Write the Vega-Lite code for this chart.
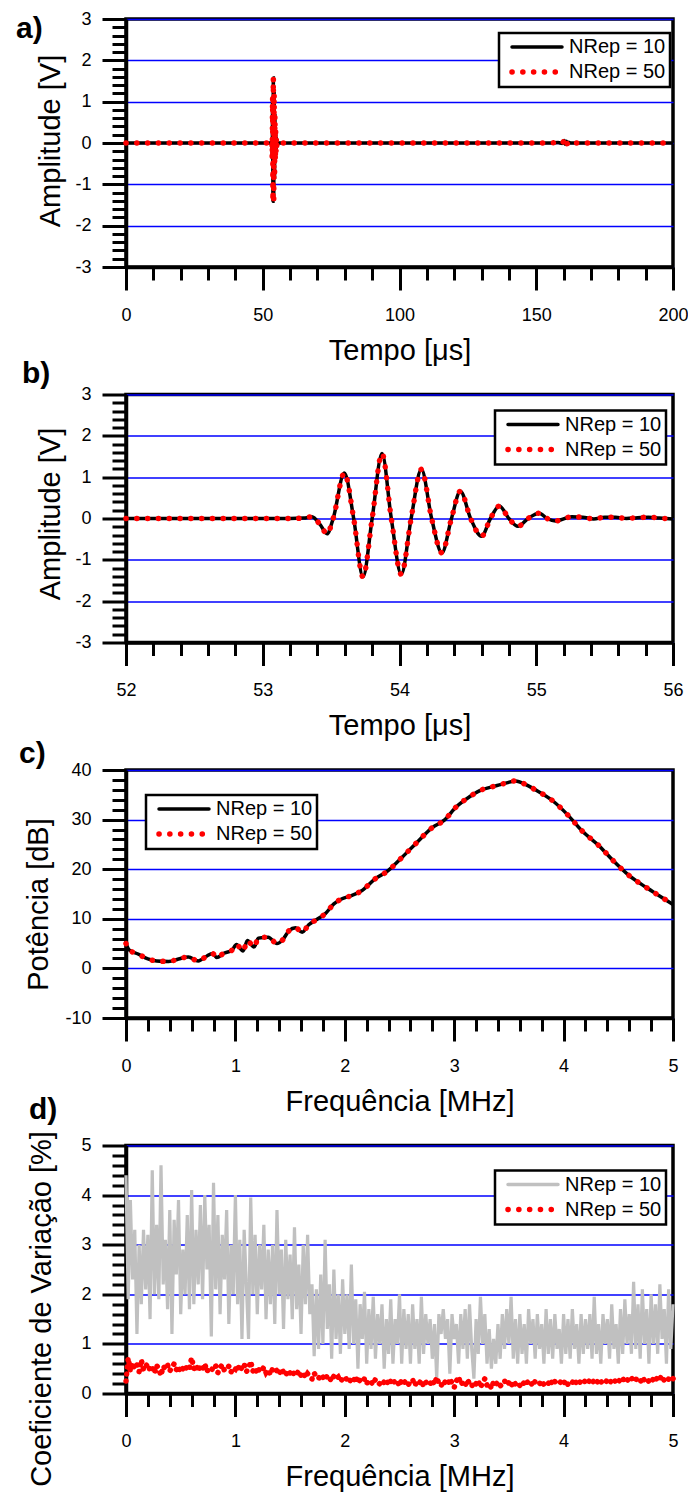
{
  "$schema": "https://vega.github.io/schema/vega-lite/v6.json",
  "padding": {"left": 14, "top": 8, "right": 0, "bottom": 0},
  "bounds": "flush",
  "spacing": 127.5,
  "config": {
    "font": "Liberation Sans",
    "background": "white",
    "view": {"stroke": "black", "strokeWidth": 3.5},
    "axis": {
      "domainColor": "black", "domainWidth": 3.5,
      "tickColor": "black", "tickWidth": 3,
      "labelFont": "Liberation Sans", "labelFontSize": 18, "labelColor": "black",
      "labelOverlap": false, "labelFlush": false,
      "titleFont": "Liberation Sans", "titleFontSize": 29, "titleFontWeight": "normal", "titleColor": "black",
      "gridColor": "#0000ff", "gridWidth": 1.5
    },
    "axisX": {"labelPadding": 16, "labelBaseline": "top", "titleY": 92, "titleBaseline": "alphabetic", "grid": false},
    "axisY": {"labelPadding": 11, "grid": true, "titleBaseline": "middle", "titleAlign": "center"},
    "legend": {
      "labelFont": "Liberation Sans", "labelFontSize": 20, "labelColor": "black",
      "padding": 4, "rowPadding": 4, "symbolOffset": 24, "labelOffset": 22,
      "symbolSize": 2500, "symbolType": "stroke", "strokeColor": "black", "fillColor": "white"
    },
    "title": {"font": "Liberation Sans", "fontSize": 30, "fontWeight": "bold", "color": "black", "anchor": "start", "frame": "group", "baseline": "alphabetic"}
  },
  "resolve": {"scale": {"color": "independent", "x": "independent", "y": "independent"}, "legend": {"color": "independent"}},
  "datasets": {
    "a": [
      {"t":0,"v":0},{"t":10,"v":0},{"t":20,"v":0},{"t":30,"v":0},{"t":40,"v":0},{"t":50,"v":0},{"t":53,"v":0},{"t":53.3,"v":0},
      {"t":53.36,"v":0.04},{"t":53.42,"v":-0.15},{"t":53.47,"v":-0.37},{"t":53.515,"v":0},{"t":53.597,"v":1.1},{"t":53.665,"v":0},
      {"t":53.733,"v":-1.41},{"t":53.8,"v":0},{"t":53.872,"v":1.57},{"t":53.94,"v":0},{"t":54.013,"v":-1.35},{"t":54.085,"v":0},
      {"t":54.16,"v":1.19},{"t":54.235,"v":0},{"t":54.31,"v":-0.83},{"t":54.38,"v":0},{"t":54.445,"v":0.66},{"t":54.52,"v":0},
      {"t":54.6,"v":-0.43},{"t":54.665,"v":0},{"t":54.73,"v":0.3},{"t":54.8,"v":0},{"t":54.866,"v":-0.19},{"t":54.94,"v":0},
      {"t":55.02,"v":0.13},{"t":55.08,"v":0},{"t":55.14,"v":-0.06},{"t":55.26,"v":0.04},{"t":55.5,"v":0.02},{"t":56,"v":0},
      {"t":60,"v":0},{"t":70,"v":0},{"t":80,"v":0},{"t":90,"v":0},{"t":100,"v":0},{"t":110,"v":0},{"t":120,"v":0},{"t":130,"v":0},
      {"t":140,"v":0},{"t":150,"v":0},{"t":155,"v":0},{"t":158,"v":0.01},{"t":159.5,"v":-0.01},{"t":160.2,"v":0.06},{"t":160.6,"v":-0.03},
      {"t":161,"v":0.04},{"t":161.4,"v":-0.02},{"t":161.8,"v":0.02},{"t":162.5,"v":0},{"t":165,"v":0},{"t":170,"v":0},{"t":180,"v":0},
      {"t":190,"v":0},{"t":200,"v":0}
    ],
    "b": [
      {"t":52,"v":0},{"t":52.5,"v":0},{"t":53,"v":0},{"t":53.2,"v":0},{"t":53.3,"v":0.01},
      {"t":53.36,"v":0.04},{"t":53.42,"v":-0.15},{"t":53.47,"v":-0.37},{"t":53.515,"v":0},{"t":53.597,"v":1.1},{"t":53.665,"v":0},
      {"t":53.733,"v":-1.41},{"t":53.8,"v":0},{"t":53.872,"v":1.57},{"t":53.94,"v":0},{"t":54.013,"v":-1.35},{"t":54.085,"v":0},
      {"t":54.16,"v":1.19},{"t":54.235,"v":0},{"t":54.31,"v":-0.83},{"t":54.38,"v":0},{"t":54.445,"v":0.66},{"t":54.52,"v":0},
      {"t":54.6,"v":-0.43},{"t":54.665,"v":0},{"t":54.73,"v":0.3},{"t":54.8,"v":0},{"t":54.866,"v":-0.19},{"t":54.94,"v":0},
      {"t":55.02,"v":0.13},{"t":55.08,"v":0},{"t":55.14,"v":-0.06},{"t":55.26,"v":0.04},{"t":55.34,"v":0.03},{"t":55.42,"v":-0.01},
      {"t":55.5,"v":0.03},{"t":55.58,"v":0.03},{"t":55.66,"v":0},{"t":55.74,"v":0.02},{"t":55.82,"v":0.03},{"t":55.9,"v":0.01},{"t":56,"v":-0.01}
    ],
    "c": [
      {"f":0,"p":5.0},{"f":0.03,"p":3.7},{"f":0.11,"p":2.9},{"f":0.2,"p":1.9},{"f":0.28,"p":1.5},{"f":0.39,"p":1.4},
      {"f":0.48,"p":1.9},{"f":0.57,"p":2.3},{"f":0.66,"p":1.5},{"f":0.74,"p":2.5},{"f":0.79,"p":3.0},{"f":0.83,"p":2.2},
      {"f":0.89,"p":3.0},{"f":0.97,"p":3.7},{"f":1.01,"p":4.8},{"f":1.07,"p":3.5},{"f":1.11,"p":5.6},{"f":1.17,"p":4.3},
      {"f":1.21,"p":6.1},{"f":1.3,"p":6.3},{"f":1.38,"p":5.0},{"f":1.43,"p":5.7},{"f":1.49,"p":7.6},{"f":1.55,"p":8.2},
      {"f":1.61,"p":7.3},{"f":1.67,"p":8.8},{"f":1.74,"p":9.8},{"f":1.82,"p":11.0},{"f":1.9,"p":13.0},{"f":1.97,"p":14.0},
      {"f":2.05,"p":14.6},{"f":2.15,"p":15.6},{"f":2.28,"p":18.1},{"f":2.39,"p":19.6},{"f":2.51,"p":22.1},{"f":2.65,"p":25.2},
      {"f":2.8,"p":28.4},{"f":2.91,"p":29.9},{"f":3.02,"p":32.6},{"f":3.14,"p":34.6},{"f":3.23,"p":35.8},{"f":3.38,"p":36.8},
      {"f":3.48,"p":37.4},{"f":3.56,"p":37.8},{"f":3.66,"p":37.0},{"f":3.75,"p":35.9},{"f":3.9,"p":33.8},{"f":4.04,"p":30.9},
      {"f":4.17,"p":27.7},{"f":4.33,"p":24.6},{"f":4.45,"p":21.8},{"f":4.6,"p":18.7},{"f":4.75,"p":16.4},{"f":4.87,"p":14.7},{"f":5,"p":12.9}
    ],
    "d": [
      {"f":0,"g":4.4,"r":0.25},{"f":0.02,"g":1.9,"r":0.72},{"f":0.04,"g":3.9,"r":0.45},{"f":0.06,"g":2.3,"r":0.62},{"f":0.08,"g":3.3,"r":0.5},
      {"f":0.1,"g":1.2,"r":0.58},{"f":0.12,"g":3.0,"r":0.44},{"f":0.14,"g":1.8,"r":0.68},{"f":0.16,"g":3.3,"r":0.47},{"f":0.18,"g":2.1,"r":0.55},
      {"f":0.2,"g":3.2,"r":0.6},{"f":0.22,"g":1.5,"r":0.46},{"f":0.24,"g":4.5,"r":0.52},{"f":0.26,"g":2.0,"r":0.41},{"f":0.28,"g":3.4,"r":0.57},
      {"f":0.3,"g":1.9,"r":0.49},{"f":0.32,"g":4.6,"r":0.36},{"f":0.34,"g":2.2,"r":0.55},{"f":0.36,"g":3.1,"r":0.5},{"f":0.38,"g":1.7,"r":0.58},
      {"f":0.4,"g":3.7,"r":0.45},{"f":0.42,"g":1.2,"r":0.53},{"f":0.44,"g":3.5,"r":0.6},{"f":0.46,"g":2.4,"r":0.48},{"f":0.48,"g":3.9,"r":0.55},
      {"f":0.5,"g":1.6,"r":0.43},{"f":0.52,"g":2.9,"r":0.5},{"f":0.54,"g":2.0,"r":0.57},{"f":0.56,"g":3.6,"r":0.46},{"f":0.58,"g":1.7,"r":0.52},
      {"f":0.6,"g":4.1,"r":0.72},{"f":0.62,"g":1.8,"r":0.5},{"f":0.64,"g":3.3,"r":0.58},{"f":0.66,"g":2.2,"r":0.45},{"f":0.68,"g":3.8,"r":0.55},
      {"f":0.7,"g":1.9,"r":0.49},{"f":0.72,"g":4.0,"r":0.6},{"f":0.74,"g":2.5,"r":0.44},{"f":0.76,"g":3.4,"r":0.53},{"f":0.78,"g":1.15,"r":0.5},
      {"f":0.8,"g":4.25,"r":0.47},{"f":0.82,"g":2.1,"r":0.56},{"f":0.84,"g":3.6,"r":0.42},{"f":0.86,"g":1.6,"r":0.52},{"f":0.88,"g":3.2,"r":0.58},
      {"f":0.9,"g":2.3,"r":0.46},{"f":0.92,"g":3.7,"r":0.5},{"f":0.94,"g":1.4,"r":0.55},{"f":0.96,"g":3.0,"r":0.43},{"f":0.98,"g":2.0,"r":0.52},
      {"f":1,"g":4.0,"r":0.49},{"f":1.02,"g":1.8,"r":0.57},{"f":1.04,"g":3.1,"r":0.45},{"f":1.06,"g":1.1,"r":0.53},{"f":1.08,"g":3.3,"r":0.6},
      {"f":1.1,"g":2.2,"r":0.44},{"f":1.12,"g":1.1,"r":0.5},{"f":1.14,"g":3.95,"r":0.65},{"f":1.16,"g":2.0,"r":0.45},{"f":1.18,"g":3.2,"r":0.52},
      {"f":1.2,"g":1.6,"r":0.4},{"f":1.22,"g":3.0,"r":0.5},{"f":1.24,"g":2.1,"r":0.46},{"f":1.26,"g":3.4,"r":0.53},{"f":1.28,"g":1.5,"r":0.42},
      {"f":1.3,"g":2.9,"r":0.48},{"f":1.32,"g":1.8,"r":0.38},{"f":1.34,"g":3.0,"r":0.5},{"f":1.36,"g":1.4,"r":0.44},{"f":1.38,"g":3.7,"r":0.47},
      {"f":1.4,"g":2.0,"r":0.39},{"f":1.42,"g":2.9,"r":0.5},{"f":1.44,"g":1.3,"r":0.43},{"f":1.46,"g":3.1,"r":0.36},{"f":1.48,"g":1.9,"r":0.47},
      {"f":1.5,"g":2.8,"r":0.41},{"f":1.52,"g":1.5,"r":0.35},{"f":1.54,"g":3.35,"r":0.44},{"f":1.56,"g":1.7,"r":0.39},{"f":1.58,"g":2.6,"r":0.46},
      {"f":1.6,"g":1.2,"r":0.36},{"f":1.62,"g":3.0,"r":0.42},{"f":1.64,"g":1.8,"r":0.32},{"f":1.66,"g":3.2,"r":0.4},{"f":1.68,"g":1.6,"r":0.35},
      {"f":1.7,"g":2.2,"r":0.29},{"f":1.72,"g":0.75,"r":0.41},{"f":1.74,"g":2.1,"r":0.34},{"f":1.76,"g":0.9,"r":0.3},{"f":1.78,"g":2.4,"r":0.38},
      {"f":1.8,"g":1.0,"r":0.33},{"f":1.82,"g":3.1,"r":0.27},{"f":1.84,"g":1.3,"r":0.37},{"f":1.86,"g":2.2,"r":0.31},{"f":1.88,"g":0.7,"r":0.25},
      {"f":1.9,"g":2.5,"r":0.35},{"f":1.92,"g":1.1,"r":0.29},{"f":1.94,"g":2.0,"r":0.33},{"f":1.96,"g":0.8,"r":0.24},{"f":1.98,"g":2.3,"r":0.3},
      {"f":2,"g":1.2,"r":0.34},{"f":2.02,"g":2.0,"r":0.27},{"f":2.04,"g":0.9,"r":0.22},{"f":2.06,"g":2.6,"r":0.31},{"f":2.08,"g":1.0,"r":0.26},
      {"f":2.1,"g":1.9,"r":0.35},{"f":2.12,"g":0.5,"r":0.21},{"f":2.14,"g":1.8,"r":0.28},{"f":2.16,"g":1.1,"r":0.24},{"f":2.18,"g":2.05,"r":0.3},
      {"f":2.2,"g":0.6,"r":0.2},{"f":2.22,"g":1.7,"r":0.27},{"f":2.24,"g":0.9,"r":0.23},{"f":2.26,"g":1.95,"r":0.18},{"f":2.28,"g":0.7,"r":0.29},
      {"f":2.3,"g":1.6,"r":0.24},{"f":2.32,"g":1.0,"r":0.19},{"f":2.34,"g":1.8,"r":0.26},{"f":2.36,"g":0.5,"r":0.22},{"f":2.38,"g":1.5,"r":0.28},
      {"f":2.4,"g":0.8,"r":0.17},{"f":2.42,"g":1.9,"r":0.25},{"f":2.44,"g":0.6,"r":0.3},{"f":2.46,"g":1.5,"r":0.2},{"f":2.48,"g":1.0,"r":0.24},
      {"f":2.5,"g":2.0,"r":0.15},{"f":2.52,"g":0.6,"r":0.27},{"f":2.54,"g":1.7,"r":0.21},{"f":2.56,"g":0.9,"r":0.26},{"f":2.58,"g":1.6,"r":0.18},
      {"f":2.6,"g":0.6,"r":0.23},{"f":2.62,"g":1.8,"r":0.28},{"f":2.64,"g":0.9,"r":0.16},{"f":2.66,"g":1.5,"r":0.24},{"f":2.68,"g":0.6,"r":0.2},
      {"f":2.7,"g":1.95,"r":0.27},{"f":2.72,"g":0.8,"r":0.14},{"f":2.74,"g":1.6,"r":0.22},{"f":2.76,"g":1.0,"r":0.25},{"f":2.78,"g":1.5,"r":0.19},
      {"f":2.8,"g":0.7,"r":0.28},{"f":2.82,"g":1.4,"r":0.18},{"f":2.84,"g":0.3,"r":0.33},{"f":2.86,"g":1.6,"r":0.2},{"f":2.88,"g":1.2,"r":0.15},
      {"f":2.9,"g":1.7,"r":0.26},{"f":2.92,"g":1.1,"r":0.22},{"f":2.94,"g":1.5,"r":0.17},{"f":2.96,"g":0.4,"r":0.3},{"f":2.98,"g":1.6,"r":0.21},
      {"f":3,"g":1.1,"r":0.12},{"f":3.02,"g":1.4,"r":0.25},{"f":3.04,"g":0.6,"r":0.34},{"f":3.06,"g":1.6,"r":0.18},{"f":3.08,"g":0.9,"r":0.23},
      {"f":3.1,"g":1.7,"r":0.16},{"f":3.12,"g":0.7,"r":0.28},{"f":3.14,"g":1.8,"r":0.2},{"f":3.16,"g":0.9,"r":0.14},{"f":3.18,"g":0.3,"r":0.24},
      {"f":3.2,"g":1.5,"r":0.19},{"f":3.22,"g":0.8,"r":0.26},{"f":3.24,"g":1.95,"r":0.12},{"f":3.26,"g":1.0,"r":0.22},{"f":3.28,"g":1.6,"r":0.3},
      {"f":3.3,"g":0.6,"r":0.17},{"f":3.32,"g":1.3,"r":0.21},{"f":3.34,"g":0.5,"r":0.1},{"f":3.36,"g":1.1,"r":0.24},{"f":3.38,"g":0.6,"r":0.18},
      {"f":3.4,"g":1.4,"r":0.23},{"f":3.42,"g":0.7,"r":0.15},{"f":3.44,"g":1.6,"r":0.2},{"f":3.46,"g":0.9,"r":0.26},{"f":3.48,"g":1.7,"r":0.17},
      {"f":3.5,"g":1.0,"r":0.22},{"f":3.52,"g":1.95,"r":0.14},{"f":3.54,"g":0.7,"r":0.25},{"f":3.56,"g":1.5,"r":0.19},{"f":3.58,"g":0.6,"r":0.23},
      {"f":3.6,"g":1.6,"r":0.16},{"f":3.62,"g":0.8,"r":0.24},{"f":3.64,"g":1.4,"r":0.2},{"f":3.66,"g":0.6,"r":0.27},{"f":3.68,"g":1.7,"r":0.18},
      {"f":3.7,"g":1.0,"r":0.22},{"f":3.72,"g":1.5,"r":0.15},{"f":3.74,"g":0.7,"r":0.25},{"f":3.76,"g":1.6,"r":0.21},{"f":3.78,"g":0.9,"r":0.19},
      {"f":3.8,"g":1.4,"r":0.26},{"f":3.82,"g":0.6,"r":0.18},{"f":3.84,"g":1.7,"r":0.23},{"f":3.86,"g":0.8,"r":0.2},{"f":3.88,"g":1.5,"r":0.28},
      {"f":3.9,"g":0.7,"r":0.17},{"f":3.92,"g":1.6,"r":0.24},{"f":3.94,"g":0.9,"r":0.21},{"f":3.96,"g":1.3,"r":0.19},{"f":3.98,"g":0.6,"r":0.26},
      {"f":4,"g":1.6,"r":0.2},{"f":4.02,"g":0.8,"r":0.27},{"f":4.04,"g":1.5,"r":0.18},{"f":4.06,"g":0.7,"r":0.24},{"f":4.08,"g":1.7,"r":0.22},
      {"f":4.1,"g":0.9,"r":0.29},{"f":4.12,"g":1.4,"r":0.19},{"f":4.14,"g":0.6,"r":0.25},{"f":4.16,"g":1.6,"r":0.21},{"f":4.18,"g":0.8,"r":0.27},
      {"f":4.2,"g":1.5,"r":0.23},{"f":4.22,"g":0.9,"r":0.19},{"f":4.24,"g":1.6,"r":0.28},{"f":4.26,"g":0.7,"r":0.22},{"f":4.28,"g":1.95,"r":0.26},
      {"f":4.3,"g":0.8,"r":0.2},{"f":4.32,"g":1.4,"r":0.29},{"f":4.34,"g":0.6,"r":0.23},{"f":4.36,"g":1.6,"r":0.25},{"f":4.38,"g":1.0,"r":0.21},
      {"f":4.4,"g":1.5,"r":0.28},{"f":4.42,"g":0.7,"r":0.22},{"f":4.44,"g":1.8,"r":0.26},{"f":4.46,"g":0.9,"r":0.3},{"f":4.48,"g":1.4,"r":0.21},
      {"f":4.5,"g":0.6,"r":0.27},{"f":4.52,"g":1.7,"r":0.24},{"f":4.54,"g":0.8,"r":0.31},{"f":4.56,"g":1.9,"r":0.23},{"f":4.58,"g":1.0,"r":0.28},
      {"f":4.6,"g":1.6,"r":0.25},{"f":4.62,"g":0.8,"r":0.32},{"f":4.64,"g":2.25,"r":0.24},{"f":4.66,"g":0.9,"r":0.29},{"f":4.68,"g":1.8,"r":0.27},
      {"f":4.7,"g":0.7,"r":0.22},{"f":4.72,"g":2.1,"r":0.33},{"f":4.74,"g":1.0,"r":0.26},{"f":4.76,"g":1.7,"r":0.3},{"f":4.78,"g":0.6,"r":0.24},
      {"f":4.8,"g":2.0,"r":0.31},{"f":4.82,"g":1.0,"r":0.27},{"f":4.84,"g":1.8,"r":0.34},{"f":4.86,"g":0.8,"r":0.25},{"f":4.88,"g":2.2,"r":0.3},
      {"f":4.9,"g":1.1,"r":0.36},{"f":4.92,"g":1.7,"r":0.26},{"f":4.94,"g":0.6,"r":0.32},{"f":4.96,"g":2.1,"r":0.29},{"f":4.98,"g":0.9,"r":0.35},
      {"f":5,"g":1.8,"r":0.3}
    ]
  },
  "vconcat": [
    {
      "width": 547, "height": 248,
      "title": {"text": "a)", "dx": -110, "offset": -34},
      "data": {"name": "a"},
      "encoding": {
        "x": {"field": "t", "type": "quantitative", "title": "Tempo [μs]",
          "scale": {"domain": [0, 200], "nice": false, "zero": false},
          "axis": {"values": [0,10,20,30,40,50,60,70,80,90,100,110,120,130,140,150,160,170,180,190,200],
            "labelExpr": "datum.value % 50 === 0 ? '' + datum.value : ''",
            "tickSize": {"condition": {"test": "datum.value % 50 === 0", "value": 23}, "value": 13}}},
        "y": {"field": "v", "type": "quantitative", "title": "Amplitude [V]",
          "scale": {"domain": [-3, 3], "nice": false, "zero": false},
          "axis": {"values": [-3,-2.8,-2.6,-2.4,-2.2,-2,-1.8,-1.6,-1.4,-1.2,-1,-0.8,-0.6,-0.4,-0.2,0,0.2,0.4,0.6,0.8,1,1.2,1.4,1.6,1.8,2,2.2,2.4,2.6,2.8,3],
            "labelExpr": "abs(datum.value - round(datum.value)) < 0.001 ? '' + round(datum.value) : ''",
            "gridOpacity": {"condition": {"test": "abs(datum.value - round(datum.value)) < 0.001", "value": 1}, "value": 0},
            "tickSize": {"condition": {"test": "abs(datum.value - round(datum.value)) < 0.001", "value": 24}, "value": 14},
            "titleX": -76, "titleY": 121.5}}
      },
      "layer": [
        {"mark": {"type": "line", "strokeWidth": 3.5, "interpolate": "monotone"},
         "encoding": {"color": {"datum": "NRep = 10", "type": "nominal",
           "scale": {"domain": ["NRep = 10", "NRep = 50"], "range": ["black", "red"]},
           "legend": {"title": null, "orient": "none", "legendX": 373, "legendY": 14,
             "encode": {"legend": {"update": {"stroke": {"value": "black"}, "strokeWidth": {"value": 2.5}, "fill": {"value": "white"}}},
               "symbols": {"update": {"strokeWidth": {"signal": "datum.value === 'NRep = 50' ? 5.5 : 3.5"}, "strokeDash": {"signal": "datum.value === 'NRep = 50' ? [0.1, 10.7] : [1, 0]"}, "strokeCap": {"value": "round"}}}}}}}},
        {"mark": {"type": "line", "strokeWidth": 5.5, "strokeDash": [0.1, 10.7], "strokeCap": "round", "interpolate": "monotone"},
         "encoding": {"color": {"datum": "NRep = 50", "type": "nominal"}}}
      ]
    },
    {
      "width": 547, "height": 248,
      "title": {"text": "b)", "dx": -104, "offset": -3},
      "data": {"name": "b"},
      "encoding": {
        "x": {"field": "t", "type": "quantitative", "title": "Tempo [μs]",
          "scale": {"domain": [52, 56], "nice": false, "zero": false},
          "axis": {"values": [52,52.2,52.4,52.6,52.8,53,53.2,53.4,53.6,53.8,54,54.2,54.4,54.6,54.8,55,55.2,55.4,55.6,55.8,56],
            "labelExpr": "abs(datum.value - round(datum.value)) < 0.001 ? '' + round(datum.value) : ''",
            "tickSize": {"condition": {"test": "abs(datum.value - round(datum.value)) < 0.001", "value": 23}, "value": 13}}},
        "y": {"field": "v", "type": "quantitative", "title": "Amplitude [V]",
          "scale": {"domain": [-3, 3], "nice": false, "zero": false},
          "axis": {"values": [-3,-2.8,-2.6,-2.4,-2.2,-2,-1.8,-1.6,-1.4,-1.2,-1,-0.8,-0.6,-0.4,-0.2,0,0.2,0.4,0.6,0.8,1,1.2,1.4,1.6,1.8,2,2.2,2.4,2.6,2.8,3],
            "labelExpr": "abs(datum.value - round(datum.value)) < 0.001 ? '' + round(datum.value) : ''",
            "gridOpacity": {"condition": {"test": "abs(datum.value - round(datum.value)) < 0.001", "value": 1}, "value": 0},
            "tickSize": {"condition": {"test": "abs(datum.value - round(datum.value)) < 0.001", "value": 24}, "value": 14},
            "titleX": -76, "titleY": 119}}
      },
      "layer": [
        {"mark": {"type": "line", "strokeWidth": 3.5, "interpolate": "monotone"},
         "encoding": {"color": {"datum": "NRep = 10", "type": "nominal",
           "scale": {"domain": ["NRep = 10", "NRep = 50"], "range": ["black", "red"]},
           "legend": {"title": null, "orient": "none", "legendX": 369, "legendY": 16,
             "encode": {"legend": {"update": {"stroke": {"value": "black"}, "strokeWidth": {"value": 2.5}, "fill": {"value": "white"}}},
               "symbols": {"update": {"strokeWidth": {"signal": "datum.value === 'NRep = 50' ? 5.5 : 3.5"}, "strokeDash": {"signal": "datum.value === 'NRep = 50' ? [0.1, 10.7] : [1, 0]"}, "strokeCap": {"value": "round"}}}}}}}},
        {"mark": {"type": "line", "strokeWidth": 5.5, "strokeDash": [0.1, 10.7], "strokeCap": "round", "interpolate": "monotone"},
         "encoding": {"color": {"datum": "NRep = 50", "type": "nominal"}}}
      ]
    },
    {
      "width": 547, "height": 248,
      "title": {"text": "c)", "dx": -107, "offset": -8},
      "data": {"name": "c"},
      "encoding": {
        "x": {"field": "f", "type": "quantitative", "title": "Frequência [MHz]",
          "scale": {"domain": [0, 5], "nice": false, "zero": false},
          "axis": {"values": [0,0.2,0.4,0.6,0.8,1,1.2,1.4,1.6,1.8,2,2.2,2.4,2.6,2.8,3,3.2,3.4,3.6,3.8,4,4.2,4.4,4.6,4.8,5],
            "labelExpr": "abs(datum.value - round(datum.value)) < 0.001 ? '' + round(datum.value) : ''",
            "tickSize": {"condition": {"test": "abs(datum.value - round(datum.value)) < 0.001", "value": 23}, "value": 13}}},
        "y": {"field": "p", "type": "quantitative", "title": "Potência [dB]",
          "scale": {"domain": [-10, 40], "nice": false, "zero": false},
          "axis": {"values": [-10,-8,-6,-4,-2,0,2,4,6,8,10,12,14,16,18,20,22,24,26,28,30,32,34,36,38,40],
            "labelExpr": "datum.value % 10 === 0 ? '' + datum.value : ''",
            "gridOpacity": {"condition": {"test": "datum.value % 10 === 0", "value": 1}, "value": 0},
            "tickSize": {"condition": {"test": "datum.value % 10 === 0", "value": 24}, "value": 14},
            "titleX": -88, "titleY": 134}}
      },
      "layer": [
        {"mark": {"type": "line", "strokeWidth": 3.5, "interpolate": "monotone"},
         "encoding": {"color": {"datum": "NRep = 10", "type": "nominal",
           "scale": {"domain": ["NRep = 10", "NRep = 50"], "range": ["black", "red"]},
           "legend": {"title": null, "orient": "none", "legendX": 20, "legendY": 25,
             "encode": {"legend": {"update": {"stroke": {"value": "black"}, "strokeWidth": {"value": 2.5}, "fill": {"value": "white"}}},
               "symbols": {"update": {"strokeWidth": {"signal": "datum.value === 'NRep = 50' ? 5.5 : 3.5"}, "strokeDash": {"signal": "datum.value === 'NRep = 50' ? [0.1, 10.7] : [1, 0]"}, "strokeCap": {"value": "round"}}}}}}}},
        {"mark": {"type": "line", "strokeWidth": 5.5, "strokeDash": [0.1, 10.7], "strokeCap": "round", "interpolate": "monotone"},
         "encoding": {"color": {"datum": "NRep = 50", "type": "nominal"}}}
      ]
    },
    {
      "width": 547, "height": 248,
      "title": {"text": "d)", "dx": -97, "offset": 6},
      "data": {"name": "d"},
      "encoding": {
        "x": {"field": "f", "type": "quantitative", "title": "Frequência [MHz]",
          "scale": {"domain": [0, 5], "nice": false, "zero": false},
          "axis": {"values": [0,0.2,0.4,0.6,0.8,1,1.2,1.4,1.6,1.8,2,2.2,2.4,2.6,2.8,3,3.2,3.4,3.6,3.8,4,4.2,4.4,4.6,4.8,5],
            "labelExpr": "abs(datum.value - round(datum.value)) < 0.001 ? '' + round(datum.value) : ''",
            "tickSize": {"condition": {"test": "abs(datum.value - round(datum.value)) < 0.001", "value": 23}, "value": 13}}}
      },
      "layer": [
        {"mark": {"type": "line", "strokeWidth": 3.2},
         "encoding": {
           "y": {"field": "g", "type": "quantitative", "title": "Coeficiente de Variação [%]",
             "scale": {"domain": [0, 5], "nice": false, "zero": false},
             "axis": {"values": [0,0.2,0.4,0.6,0.8,1,1.2,1.4,1.6,1.8,2,2.2,2.4,2.6,2.8,3,3.2,3.4,3.6,3.8,4,4.2,4.4,4.6,4.8,5],
               "labelExpr": "abs(datum.value - round(datum.value)) < 0.001 ? '' + round(datum.value) : ''",
               "gridOpacity": {"condition": {"test": "abs(datum.value - round(datum.value)) < 0.001", "value": 1}, "value": 0},
               "tickSize": {"condition": {"test": "abs(datum.value - round(datum.value)) < 0.001", "value": 24}, "value": 14},
               "titleX": -85, "titleY": 163}},
           "color": {"datum": "NRep = 10", "type": "nominal",
           "scale": {"domain": ["NRep = 10", "NRep = 50"], "range": ["#c0c0c0", "red"]},
           "legend": {"title": null, "orient": "none", "legendX": 369, "legendY": 25,
             "encode": {"legend": {"update": {"stroke": {"value": "black"}, "strokeWidth": {"value": 2.5}, "fill": {"value": "white"}}},
               "symbols": {"update": {"strokeWidth": {"signal": "datum.value === 'NRep = 50' ? 5.5 : 3.5"}, "strokeDash": {"signal": "datum.value === 'NRep = 50' ? [0.1, 10.7] : [1, 0]"}, "strokeCap": {"value": "round"}}}}}}}},
        {"mark": {"type": "line", "strokeWidth": 5.5, "strokeDash": [0.1, 7], "strokeCap": "round"},
         "encoding": {
           "y": {"field": "r", "type": "quantitative", "title": "Coeficiente de Variação [%]",
             "scale": {"domain": [0, 5], "nice": false, "zero": false},
             "axis": {"values": [0,0.2,0.4,0.6,0.8,1,1.2,1.4,1.6,1.8,2,2.2,2.4,2.6,2.8,3,3.2,3.4,3.6,3.8,4,4.2,4.4,4.6,4.8,5],
               "labelExpr": "abs(datum.value - round(datum.value)) < 0.001 ? '' + round(datum.value) : ''",
               "gridOpacity": {"condition": {"test": "abs(datum.value - round(datum.value)) < 0.001", "value": 1}, "value": 0},
               "tickSize": {"condition": {"test": "abs(datum.value - round(datum.value)) < 0.001", "value": 24}, "value": 14},
               "titleX": -85, "titleY": 163}},
           "color": {"datum": "NRep = 50", "type": "nominal"}}}
      ]
    }
  ]
}
